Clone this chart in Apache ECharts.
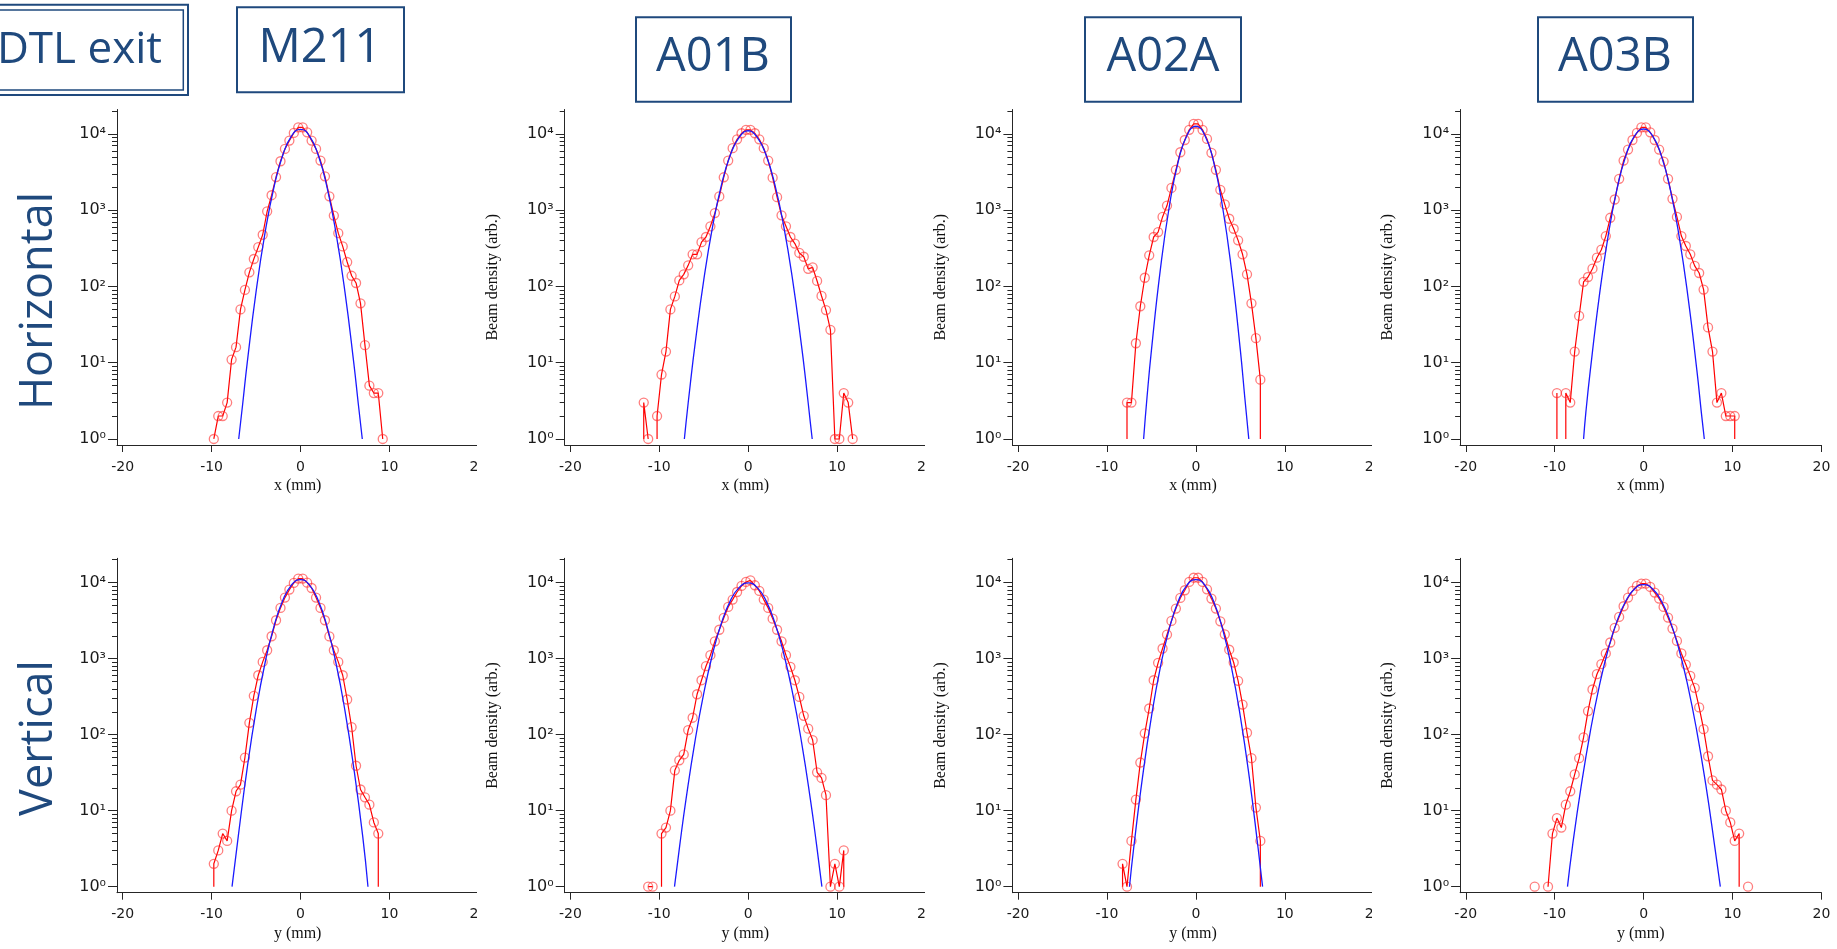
<!DOCTYPE html>
<html>
<head>
<meta charset="utf-8">
<title>Beam profiles</title>
<script src="https://cdn.jsdelivr.net/npm/echarts@6.0.0/dist/echarts.min.js"></script>
<style>
  html, body { margin:0; padding:0; background:#ffffff; }
  body { width:1837px; height:949px; position:relative; overflow:hidden; }
  .chart { position:absolute; top:0; height:949px; }
</style>
</head>
<body>
<div id="labels" class="chart" style="left:0;width:1837px;"></div>
<div id="col0" class="chart" style="left:0;width:477px;"></div>
<div id="col1" class="chart" style="left:477px;width:448px;"></div>
<div id="col2" class="chart" style="left:925px;width:447px;"></div>
<div id="col3" class="chart" style="left:1372px;width:465px;"></div>
<script>
// ---------------- data ----------------
const STATIONS = ['M211', 'A01B', 'A02A', 'A03B'];
const ROW_NAMES = ['Horizontal', 'Vertical'];
const AXIS_TITLES_X = ['x (mm)', 'y (mm)'];
const AXIS_TITLE_Y = 'Beam density (arb.)';
const X_TICKS = [-20, -10, 0, 10, 20];
const Y_TICKS = [1, 10, 100, 1000, 10000];
const Y_MINOR = [2,3,4,5,6,7,8,9, 20,30,40,50,60,70,80,90, 200,300,400,500,600,700,800,900,
                 2000,3000,4000,5000,6000,7000,8000,9000, 20000];
const SUP = ['\u2070', '\u00b9', '\u00b2', '\u00b3', '\u2074'];

// bin centres (mm)
const BINS = [-12.25,-11.75,-11.25,-10.75,-10.25,-9.75,-9.25,-8.75,-8.25,-7.75,
              -7.25,-6.75,-6.25,-5.75,-5.25,-4.75,-4.25,-3.75,-3.25,-2.75,
              -2.25,-1.75,-1.25,-0.75,-0.25,0.25,0.75,1.25,1.75,2.25,
              2.75,3.25,3.75,4.25,4.75,5.25,5.75,6.25,6.75,7.25,
              7.75,8.25,8.75,9.25,9.75,10.25,10.75,11.25,11.75,12.25];

// measured densities (0 = empty bin)
const H_M211 = [0,0,0,0,0, 1,2,2,3,11, 16,50,90,153,229, 328,476,966,1570,2720,
                4380,6350,8170,10300,12200, 12200,10500,8170,6350,4470, 2780,1520,850,500,335,
                209,138,111,60,17, 5,4,4,1,0, 0,0,0,0,0];
const H_A01B = [0,3,1,0,2, 7,14,50,74,120, 144,189,264,264,380, 445,615,915,1515,2700,
                4470,6500,8500,10200,11300, 11300,10200,8500,6500,4470, 2670,1480,855,615,445,
                365,275,245,170,178, 118,75,49,27,1, 1,4,3,1,0];
const H_A02A = [0,0,0,0,0, 0,0,0,0,3, 3,18,55,130,256, 445,516,815,1150,1960,
                3380,5750,8320,11300,13500, 13500,11300,8600,5640,3380, 1850,1190,772,571,402,
                264,144,60,21,6, 0,0,0,0,0, 0,0,0,0,0];
const H_A03B = [0,0,0,0,0, 4,0,4,3,14, 41,115,133,171,238, 303,457,795,1380,2580,
                4470,6240,8320,10300,12200, 12200,10500,8320,6240,4340, 2580,1410,815,457,339,
                264,186,150,91,29, 14,3,4,2,2, 2,0,0,0,0];
const V_M211 = [0,0,0,0,0, 2,3,5,4,10, 18,22,50,143,324, 605,906,1290,1970,3200,
                4650,6350,8090,9900,11300, 11300,10000,8500,6350,4650, 3200,1960,1290,906,605,
                290,126,39,19,15, 12,7,5,0,0, 0,0,0,0,0];
const V_A01B = [0,0,1,1,0, 5,6,10,34,46, 55,115,167,340,520, 795,1110,1690,2400,3430,
                4790,5980,7530,9040,10200, 10700,9230,7770,5980,4650, 3360,2400,1690,1110,780,
                520,314,177,120,85, 32,27,16,1,2, 1,3,0,0,0];
const V_A02A = [0,0,0,0,0, 0,0,0,2,1, 4,14,43,104,221, 520,880,1360,2070,3130,
                4550,6290,7940,10200,11600, 11600,10200,8170,6160,4550, 3100,2090,1310,890,510,
                249,106,49,11,4, 0,0,0,0,0, 0,0,0,0,0];
const V_A03B = [1,0,0,1,5, 8,6,12,18,30, 49,92,204,393,624, 845,1170,1630,2540,3540,
                4890,6350,7770,9040,9700, 9700,8770,7390,6160,4790, 3470,2490,1710,1170,836,
                593,413,228,118,52, 25,22,19,10,7, 4,5,0,1,0];

// fitted Gaussian curves
const FIT_H_M211_X = [-6.95,-6.5,-6,-5,-4,-3,-2,-1,0,1,2,3,4,5,6,6.5,6.95];
const FIT_H_M211_Y = [1,2.9,9.8,85,495,1960,5240,9440,11500,9440,5240,1960,495,85,9.8,2.9,1];
const FIT_H_A01B_X = [-7.18,-7,-6.5,-6,-5,-4,-3,-2,-1,0,1,2,3,4,5,6,6.5,7,7.2];
const FIT_H_A01B_Y = [1,1.6,5.4,16.6,121,612,2160,5330,9060,11000,9060,5330,2160,612,121,16.6,5.4,1.6,1];
const FIT_H_A02A_X = [-5.88,-5.5,-5,-4,-3,-2,-1,0,1,2,3,4,5,5.5,5.95];
const FIT_H_A02A_Y = [1,3.5,14.6,166,1100,4270,9600,12600,9600,4270,1100,166,14.6,3.5,1];
const FIT_H_A03B_X = [-6.75,-6.5,-6,-5,-4,-3,-2,-1,0,1,2,3,4,5,6,6.5,6.83];
const FIT_H_A03B_Y = [1,2.2,7.8,72,451,1870,5150,9480,11600,9480,5150,1870,451,72,7.8,2.2,1];
const FIT_V_M211_X = [-7.7,-7,-6,-5,-4,-3,-2,-1,0,1,2,3,4,5,6,7,7.59];
const FIT_V_M211_Y = [1,4.6,36,207,863,2620,5810,9350,10970,9350,5810,2620,863,207,36,4.6,1];
const FIT_V_A01B_X = [-8.29,-7.7,-7,-6,-5,-4,-3,-2,-1,0,1,2,3,4,5,6,7,7.7,8.29];
const FIT_V_A01B_Y = [1,3.5,14,80,348,1160,2965,5800,8670,9900,8670,5800,2965,1160,348,80,14,3.5,1];
const FIT_V_A02A_X = [-7.47,-7,-6,-5,-4,-3,-2,-1,0,1,2,3,4,5,6,7,7.5];
const FIT_V_A02A_Y = [1,3.2,27.8,173,769,2460,5650,9290,10970,9290,5650,2460,769,173,27.8,3.2,1];
const FIT_V_A03B_X = [-8.56,-8,-7,-6,-5,-4,-3,-2,-1,0,1,2,3,4,5,6,7,8,8.63];
const FIT_V_A03B_Y = [1,3.4,21.8,109,426,1300,3090,5740,8320,9420,8320,5740,3090,1300,426,109,21.8,3.4,1];

const PANELS = [
  [ {v:H_M211, fx:FIT_H_M211_X, fy:FIT_H_M211_Y}, {v:H_A01B, fx:FIT_H_A01B_X, fy:FIT_H_A01B_Y},
    {v:H_A02A, fx:FIT_H_A02A_X, fy:FIT_H_A02A_Y}, {v:H_A03B, fx:FIT_H_A03B_X, fy:FIT_H_A03B_Y} ],
  [ {v:V_M211, fx:FIT_V_M211_X, fy:FIT_V_M211_Y}, {v:V_A01B, fx:FIT_V_A01B_X, fy:FIT_V_A01B_Y},
    {v:V_A02A, fx:FIT_V_A02A_X, fy:FIT_V_A02A_Y}, {v:V_A03B, fx:FIT_V_A03B_X, fy:FIT_V_A03B_Y} ]
];

// ---------------- layout ----------------
const COL_LEFT = [0, 477, 925, 1372];
const GRID_PAGE_LEFT = [117, 564.7, 1012.4, 1460.1];
const GRID_W = 361.3;
const ROW_TOP = [109.5, 558.3];
const ROW_H = [335.5, 334.4];
const X_MIN = -20.64, X_MAX = 20;
const Y_MIN = 0.8337, Y_MAX = 20893;
const NAVY = '#1f497d';
const INK = '#262626';

// red profile: empty bins pull the trace down to the floor, like the original plot
function redData(vals) {
  const out = [];
  for (let i = 0; i < vals.length; i++) {
    const v = vals[i];
    if (v > 0) {
      if (i > 0 && vals[i - 1] === 0) out.push({ value: [BINS[i], 1], symbol: 'none' });
      out.push([BINS[i], v]);
      if (i < vals.length - 1 && vals[i + 1] === 0) out.push({ value: [BINS[i], 1], symbol: 'none' });
    } else if (out.length && out[out.length - 1][1] !== '-') {
      out.push([BINS[i], '-']);
    }
  }
  return out;
}
function pairs(xs, ys) { return xs.map((x, i) => [x, ys[i]]); }

function buildColumn(col) {
  const grid = [], xAxis = [], yAxis = [], series = [];
  for (let row = 0; row < 2; row++) {
    const p = PANELS[row][col];
    grid.push({ left: GRID_PAGE_LEFT[col] - COL_LEFT[col], width: GRID_W, top: ROW_TOP[row], height: ROW_H[row],
                containLabel: false, outerBoundsMode: 'none' });
    xAxis.push({
      type: 'value', gridIndex: row, min: X_MIN, max: X_MAX,
      axisLine: { show: true, onZero: false, lineStyle: { color: INK, width: 1 } },
      axisTick: { show: true, length: 7, customValues: X_TICKS, lineStyle: { color: INK, width: 1 } },
      axisLabel: { customValues: X_TICKS, fontFamily: 'DejaVu Sans', fontSize: 14, color: '#1a1a1a', margin: 15,
                   hideOverlap: false, showMinLabel: true, showMaxLabel: true },
      splitLine: { show: false },
      name: AXIS_TITLES_X[row], nameLocation: 'middle', nameGap: 33,
      nameTextStyle: { fontFamily: 'Liberation Serif', fontSize: 16, color: '#111' }
    });
    yAxis.push({
      type: 'log', logBase: 10, gridIndex: row, min: Y_MIN, max: Y_MAX, position: 'left',
      axisLine: { show: true, onZero: false, lineStyle: { color: INK, width: 1 } },
      axisTick: { show: true, length: 9, customValues: Y_TICKS, lineStyle: { color: INK, width: 1 } },
      axisLabel: { customValues: Y_TICKS, fontFamily: 'DejaVu Sans', fontSize: 16, color: '#1a1a1a', margin: 11,
                   formatter: v => '10' + SUP[Math.round(Math.log10(v))] },
      splitLine: { show: false },
      name: col === 0 ? '' : AXIS_TITLE_Y, nameLocation: 'middle', nameGap: 64,
      nameTextStyle: { fontFamily: 'Liberation Serif', fontSize: 16, color: '#111' }
    });
    yAxis.push({
      type: 'log', logBase: 10, gridIndex: row, min: Y_MIN, max: Y_MAX, position: 'left',
      axisLine: { show: false, onZero: false },
      axisTick: { show: true, length: 5, customValues: Y_MINOR, lineStyle: { color: INK, width: 1 } },
      axisLabel: { show: false }, splitLine: { show: false }
    });
    series.push({
      type: 'line', xAxisIndex: row, yAxisIndex: row * 2, data: redData(p.v),
      symbol: 'circle', symbolSize: 9, showAllSymbol: true, connectNulls: false,
      lineStyle: { color: '#ff0000', width: 1.2 },
      itemStyle: { color: 'rgba(255,255,255,0)', borderColor: 'rgba(255,40,40,0.6)', borderWidth: 1.3 },
      emphasis: { disabled: true }, z: 2
    });
    series.push({
      type: 'line', xAxisIndex: row, yAxisIndex: row * 2, data: pairs(p.fx, p.fy),
      smooth: 0.5, symbol: 'none', lineStyle: { color: '#1a1aff', width: 1.3 },
      emphasis: { disabled: true }, z: 3
    });
  }
  const chart = echarts.init(document.getElementById('col' + col), null, { renderer: 'canvas' });
  chart.setOption({ animation: false, grid, xAxis, yAxis, series });
}

function buildLabels() {
  const txt = (text, x, y, size, extra) => Object.assign({
    type: 'text', x, y,
    style: { text, fontFamily: 'Open Sans', fontSize: size, fill: NAVY, align: 'center', verticalAlign: 'middle' }
  }, extra || {});
  const box = (x, y, w, h, lw) => ({ type: 'rect', shape: { x, y, width: w, height: h },
    style: { fill: 'none', stroke: NAVY, lineWidth: lw } });
  const dtl = txt('DTL exit', 162, 50, 44);
  dtl.style.align = 'right';
  const graphic = [
    box(-6, 4.7, 194, 90.3, 2), box(-6, 10, 189.3, 80, 1.5), dtl,
    box(237, 7.3, 167, 85, 2), txt(STATIONS[0], 320, 49, 47),
    box(636, 17.3, 155, 84.4, 2), txt(STATIONS[1], 713, 58, 47),
    box(1085, 17.3, 156, 84.4, 2), txt(STATIONS[2], 1163, 58, 47),
    box(1538, 17.3, 155, 84.4, 2), txt(STATIONS[3], 1615, 58, 47),
    txt(ROW_NAMES[0], 39, 301, 45, { rotation: Math.PI / 2 }),
    txt(ROW_NAMES[1], 39, 738, 45, { rotation: Math.PI / 2 })
  ];
  const chart = echarts.init(document.getElementById('labels'), null, { renderer: 'canvas' });
  chart.setOption({ animation: false, backgroundColor: '#ffffff', graphic });
}

buildLabels();
for (let c = 0; c < 4; c++) buildColumn(c);
</script>
</body>
</html>
